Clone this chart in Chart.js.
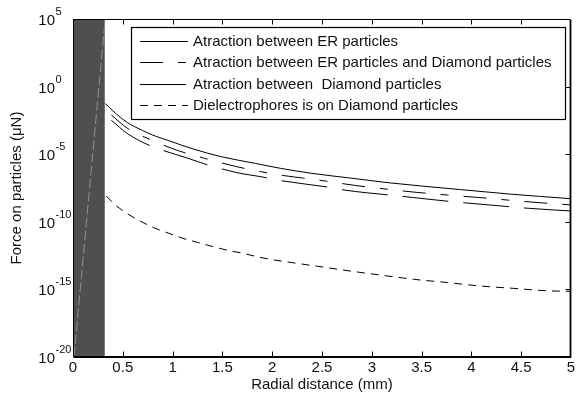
<!DOCTYPE html>
<html>
<head>
<meta charset="utf-8">
<script src="https://cdn.jsdelivr.net/npm/chart.js@4/dist/chart.umd.min.js"></script>
<style>
  html, body { margin: 0; padding: 0; background: #fff; }
  #wrap { width: 579px; height: 401px; }
  canvas { display: block; }
</style>
</head>
<body>
<div id="wrap"><canvas id="c" width="579" height="401"></canvas></div>
<script>
// Radial distance (mm) and force (μN) for each interaction
const xER = [0.325, 0.40, 0.55, 0.70, 0.80, 0.97, 1.21, 1.49, 1.83, 2.08, 2.38, 2.78, 3.18, 3.49, 3.89, 4.39, 5.0];
const fER = [5.6e-2, 1.6e-2, 2.1e-3, 5.6e-4, 2.6e-4, 9.5e-5, 2.4e-5, 6.5e-6, 2.1e-6, 9.1e-7, 4.0e-7, 1.74e-7, 7.6e-8, 4.5e-8, 2.4e-8, 1.12e-8, 5.1e-9];

const xERD = [0.385, 0.55, 0.77, 1.04, 1.32, 1.63, 1.88, 2.12, 2.35, 2.54, 2.84, 3.15, 3.42, 3.76, 4.07, 4.39, 4.68, 5.0];
const fERD = [7.9e-3, 7.9e-4, 1.26e-4, 2.0e-5, 5.0e-6, 1.26e-6, 5.2e-7, 2.6e-7, 1.58e-7, 1.02e-7, 4.8e-8, 2.6e-8, 1.58e-8, 9.5e-9, 6.3e-9, 3.9e-9, 2.6e-9, 1.78e-9];

const xD = [0.385, 0.55, 0.77, 1.155, 1.356, 1.675, 1.866, 2.108, 2.58, 2.73, 3.18, 3.41, 3.80, 4.19, 4.57, 5.0];
const fD = [3.2e-3, 3.2e-4, 4.4e-5, 5.0e-6, 1.58e-6, 3.9e-7, 2.3e-7, 1.05e-7, 3.5e-8, 2.2e-8, 9.5e-9, 6.3e-9, 3.1e-9, 1.74e-9, 1.0e-9, 6.3e-10];

const xDEP = [0.334, 0.418, 0.538, 0.674, 0.817, 0.958, 1.102, 1.253, 1.403, 1.549, 1.705, 1.851, 2.002, 2.153, 2.50, 2.78, 3.08, 3.42, 3.76, 4.09, 4.42, 4.76, 5.0];
const fDEP = [8.1e-9, 1.95e-9, 4.3e-10, 1.15e-10, 3.5e-11, 1.45e-11, 6.0e-12, 2.95e-12, 1.48e-12, 7.9e-13, 4.7e-13, 2.6e-13, 1.58e-13, 1.07e-13, 4.6e-14, 2.3e-14, 1.17e-14, 5.6e-15, 3.2e-15, 1.78e-15, 1.2e-15, 7.9e-16, 7.2e-16];

// Particle region near the origin and the trace inside it
const xZone = [0, 0.32];
const fZone = [1e-20, 1e-20];
const xTrace = [0.01, 0.323];
const fTrace = [1e-20, 1e5];

const seriesLabels = [
  'Atraction between ER particles',
  'Atraction between ER particles and Diamond particles',
  'Atraction between  Diamond particles',
  'Dielectrophores is on Diamond particles'
];

const xTickValues = [0, 0.5, 1, 1.5, 2, 2.5, 3, 3.5, 4, 4.5, 5];
const xTickLabels = ['0', '0.5', '1', '1.5', '2', '2.5', '3', '3.5', '4', '4.5', '5'];
const yTickExponents = [5, 0, -5, -10, -15, -20];

const pts = (xs, ys) => xs.map((x, i) => ({ x: x, y: ys[i] }));

const FONT = '"Liberation Sans", Arial, sans-serif';

const curve = (label, xs, ys, dash) => ({
  label: label,
  data: pts(xs, ys),
  borderColor: '#000',
  borderWidth: 1,
  borderDash: dash,
  pointRadius: 0,
  fill: false,
  cubicInterpolationMode: 'monotone',
  order: 0
});

const axesPlugin = {
  id: 'axesFrame',
  afterDatasetsDraw(chart) {
    const { ctx, chartArea: a, scales: { x, y } } = chart;
    ctx.save();
    ctx.strokeStyle = '#000';
    const L = a.left + 0.5, R = a.right - 0.5, T = a.top + 0.5, B = a.bottom - 0.5;
    // top and left edges
    ctx.lineWidth = 1;
    ctx.beginPath();
    ctx.moveTo(L, B); ctx.lineTo(L, T); ctx.lineTo(R, T);
    ctx.stroke();
    // bottom and right edges
    ctx.lineWidth = 1.8;
    ctx.beginPath();
    ctx.moveTo(L, B + 0.5); ctx.lineTo(R, B + 0.5); ctx.lineTo(R, T);
    ctx.stroke();
    // inward ticks
    ctx.lineWidth = 1;
    ctx.beginPath();
    xTickValues.forEach(v => {
      const px = Math.round(x.getPixelForValue(v)) + 0.5;
      if (v === 0 || v === 5) return;
      ctx.moveTo(px, B); ctx.lineTo(px, B - 5);
      ctx.moveTo(px, T); ctx.lineTo(px, T + 5);
    });
    yTickExponents.forEach(e => {
      const py = Math.round(y.getPixelForValue(Math.pow(10, e))) + 0.5;
      if (e === 5 || e === -20) return;
      ctx.moveTo(R, py); ctx.lineTo(R - 5, py);
    });
    ctx.stroke();

    // tick labels
    ctx.fillStyle = '#111';
    ctx.font = '15px ' + FONT;
    ctx.textAlign = 'center';
    ctx.textBaseline = 'middle';
    xTickValues.forEach((v, i) => {
      ctx.fillText(xTickLabels[i], x.getPixelForValue(v), 368);
    });
    yTickExponents.forEach(e => {
      const py = y.getPixelForValue(Math.pow(10, e));
      ctx.font = '15px ' + FONT;
      ctx.textAlign = 'right';
      ctx.textBaseline = 'alphabetic';
      ctx.fillText('10', 55, py + 6);
      ctx.font = '11px ' + FONT;
      ctx.textAlign = 'left';
      ctx.fillText(String(e), 55.5, py - 4);
    });

    // axis titles
    ctx.font = '15px ' + FONT;
    ctx.textAlign = 'center';
    ctx.textBaseline = 'middle';
    ctx.fillText('Radial distance (mm)', (a.left + a.right) / 2, 385);
    ctx.save();
    ctx.translate(17, (a.top + a.bottom) / 2);
    ctx.rotate(-Math.PI / 2);
    ctx.fillText('Force on particles (\u03BCN)', 0, 0);
    ctx.restore();

    // legend box
    const bx = 131.5, by = 27.5, bw = 434, bh = 92;
    ctx.fillStyle = '#fff';
    ctx.fillRect(bx, by, bw, bh);
    ctx.lineWidth = 1.2;
    ctx.strokeRect(bx, by, bw, bh);
    ctx.lineWidth = 1;
    ctx.font = '15px ' + FONT;
    ctx.textAlign = 'left';
    ctx.textBaseline = 'middle';
    chart.data.datasets.filter(d => d.label).forEach((d, i) => {
      const ry = Math.round(41 + i * 21.4) + 0.5;
      ctx.strokeStyle = '#000';
      ctx.setLineDash(d.borderDash || []);
      ctx.beginPath();
      ctx.moveTo(140, ry); ctx.lineTo(188, ry);
      ctx.stroke();
      ctx.setLineDash([]);
      ctx.fillStyle = '#111';
      ctx.fillText(d.label, 193, ry);
    });
    ctx.restore();
  }
};

new Chart(document.getElementById('c'), {
  type: 'line',
  data: {
    datasets: [
      curve(seriesLabels[0], xER, fER, []),
      curve(seriesLabels[1], xERD, fERD, [23, 15, 8, 15]),
      curve(seriesLabels[2], xD, fD, [46, 15]),
      curve(seriesLabels[3], xDEP, fDEP, [8, 6]),
      {
        data: pts(xTrace, fTrace),
        borderColor: '#8e8e8e',
        borderWidth: 1,
        borderDash: [10, 3],
        pointRadius: 0,
        fill: false,
        order: 1
      },
      {
        data: pts(xZone, fZone),
        borderWidth: 0,
        borderColor: 'rgba(0,0,0,0)',
        backgroundColor: '#4f4f4f',
        pointRadius: 0,
        fill: 'end',
        order: 10
      }
    ]
  },
  options: {
    responsive: false,
    animation: false,
    devicePixelRatio: 1,
    layout: { padding: { left: 73, right: 8, top: 19, bottom: 44 } },
    scales: {
      x: { type: 'linear', min: 0, max: 5, display: false },
      y: { type: 'logarithmic', min: 1e-20, max: 1e5, display: false }
    },
    plugins: {
      legend: { display: false },
      tooltip: { enabled: false }
    }
  },
  plugins: [axesPlugin]
});
</script>
</body>
</html>
